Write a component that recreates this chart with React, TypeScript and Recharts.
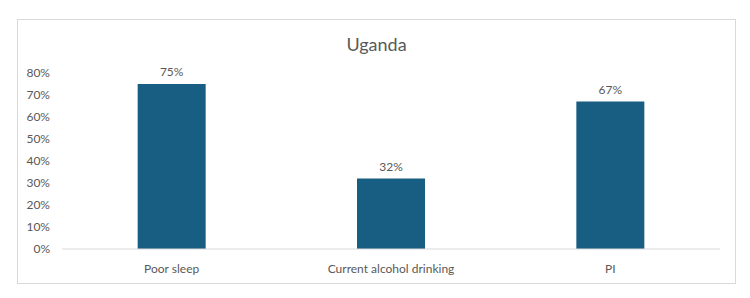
import React from 'react';
import { BarChart, Bar, XAxis, YAxis, LabelList } from 'recharts';

const categories = ['Poor sleep', 'Current alcohol drinking', 'PI'];
const values = [75, 32, 67];
const yTicks = [0, 10, 20, 30, 40, 50, 60, 70, 80];
const title = 'Uganda';

const data = categories.map((c, i) => ({ name: c, value: values[i] }));
const FONT = 'Lato, "Open Sans", sans-serif';
const GREY = '#595959';

export default function App() {
  return (
    <div style={{ position: 'absolute', left: 0, top: 0, width: 750, height: 298, background: '#fff' }}>
      <div
        style={{
          position: 'absolute',
          left: 17,
          top: 19,
          width: 717,
          height: 263,
          border: '1px solid #d9d9d9',
          fontFamily: FONT,
        }}
      >
        <div
          style={{
            position: 'absolute',
            left: 0,
            top: 13,
            width: 717,
            textAlign: 'center',
            fontSize: 18,
            color: GREY,
            fontFamily: FONT,
          }}
        >
          {title}
        </div>
        <BarChart
          width={717}
          height={263}
          data={data}
          margin={{ top: 53, right: 15, bottom: 0, left: 0 }}
          barCategoryGap="34.5%"
        >
          <XAxis
            dataKey="name"
            tickLine={false}
            axisLine={{ stroke: '#d9d9d9' }}
            tick={{ fill: GREY, fontSize: 12, fontFamily: FONT }}
            tickMargin={9}
            height={34}
            interval={0}
          />
          <YAxis
            domain={[0, 80]}
            ticks={yTicks}
            tickFormatter={(v: number) => `${v}%`}
            tickLine={false}
            axisLine={false}
            tick={{ fill: GREY, fontSize: 12, fontFamily: FONT }}
            tickMargin={6}
            width={44}
            interval={0}
          />
          <Bar dataKey="value" fill="#175E82" isAnimationActive={false}>
            <LabelList
              dataKey="value"
              position="top"
              offset={8}
              formatter={(v: number) => `${v}%`}
              style={{ fill: GREY, fontSize: 12, fontFamily: FONT }}
            />
          </Bar>
        </BarChart>
      </div>
    </div>
  );
}
